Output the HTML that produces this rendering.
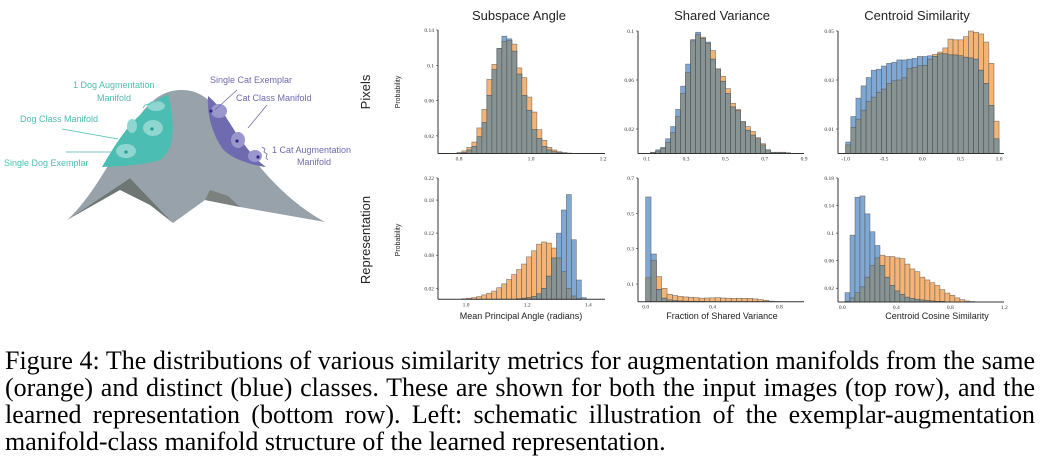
<!DOCTYPE html>
<html><head><meta charset="utf-8"><style>
body{margin:0;width:1040px;height:466px;background:#fff;overflow:hidden;position:relative;font-family:"Liberation Sans",sans-serif}
.cap{position:absolute;left:5px;width:1030px;font-family:"Liberation Serif",serif;font-size:26px;color:#000;text-align:justify;text-align-last:justify;white-space:nowrap;line-height:27px}
.cap.last{text-align-last:left}
</style></head><body>
<svg id="fig" width="1040" height="340" style="position:absolute;left:0;top:0" xmlns="http://www.w3.org/2000/svg">
<g>
<path d="M67,220 C95,195 115,150 140,115 C155,95 168,90 182,90 C200,90 212,100 230,125 C255,165 285,200 325,222 L240,207 L205,200 L173,223 L130,178 Z" fill="#98a2ab"/>
<path d="M67,220 L130,178 L173,223 L150,205 L120,190 Z" fill="#6f7774"/>
<path d="M205,200 L240,207 L228,196 L210,190 Z" fill="#7a817e"/>
<path d="M102,167 C112,150 125,128 140,115 C150,104 160,98 168,94 C175,120 176,150 160,160 C140,166 120,166 102,167 Z" fill="#4bbdb2"/>
<path d="M208,96 C218,104 225,115 236,133 C248,150 256,160 266,167 C250,165 230,158 222,148 C210,130 207,110 208,96 Z" fill="#6e6bb0"/>
<ellipse cx="126" cy="151" rx="10" ry="7" fill="#8ed6cf"/><circle cx="126" cy="152" r="1.6" fill="#1f9c90"/>
<ellipse cx="153" cy="128" rx="10" ry="8" fill="#8ed6cf"/><circle cx="152" cy="129" r="1.6" fill="#1f9c90"/>
<ellipse cx="132" cy="126" rx="5" ry="7" fill="#8ed6cf"/>
<ellipse cx="156" cy="106" rx="9" ry="5" fill="#8ed6cf"/>
<ellipse cx="219" cy="111" rx="8" ry="7" fill="#9a97cc"/><circle cx="211" cy="111" r="1.6" fill="#2e2a8a"/>
<ellipse cx="238" cy="140" rx="7" ry="8" fill="#9a97cc"/><circle cx="237" cy="141" r="1.6" fill="#2e2a8a"/>
<ellipse cx="255" cy="156" rx="7" ry="6" fill="#9a97cc"/><circle cx="258" cy="157" r="1.6" fill="#2e2a8a"/>
<g stroke="#4bbdb2" stroke-width="0.8" fill="none"><line x1="62" y1="129" x2="118" y2="139"/><line x1="66" y1="152" x2="112" y2="152"/><path d="M143,108 l2,-3 l5,-1 l2,-2 l4,0 l2,-2"/></g>
<g stroke="#6e6bb0" stroke-width="0.8" fill="none"><line x1="237" y1="90" x2="215" y2="110"/><line x1="267" y1="105" x2="248" y2="128"/><path d="M262,147 l3,2 l-1,3 l3,2 l-1,4 l2,2"/></g>
<g font-size="9" fill="#4bbdb2"><text x="73" y="88">1 Dog  Augmentation</text><text x="97" y="101">Manifold</text><text x="20" y="122">Dog Class Manifold</text><text x="4" y="166">Single Dog Exemplar</text></g>
<g font-size="9" fill="#6e6bb0"><text x="210" y="83">Single Cat Exemplar</text><text x="236" y="101">Cat Class Manifold</text><text x="272" y="153">1 Cat Augmentation</text><text x="297" y="165">Manifold</text></g>
</g>
<g font-size="13" fill="#222" text-anchor="middle">
<text x="519" y="20">Subspace Angle</text>
<text x="722" y="20">Shared Variance</text>
<text x="917" y="20">Centroid Similarity</text>
<text transform="translate(370,92) rotate(-90)">Pixels</text>
<text transform="translate(370,240) rotate(-90)">Representation</text>
</g>
<g font-size="7" fill="#222" text-anchor="middle">
<text transform="translate(400,92) rotate(-90)">Probability</text>
<text transform="translate(400,240) rotate(-90)">Probability</text>
</g>
<g font-size="9" fill="#222" text-anchor="middle">
<text x="521" y="319">Mean Principal Angle (radians)</text>
<text x="722" y="319">Fraction of Shared Variance</text>
<text x="937" y="319">Centroid Cosine Similarity</text>
</g>
<g id="charts"></g>
</svg>
<div class="cap" style="top:347px">Figure 4: The distributions of various similarity metrics for augmentation manifolds from the same</div>
<div class="cap" style="top:374px">(orange) and distinct (blue) classes. These are shown for both the input images (top row), and the</div>
<div class="cap" style="top:401px">learned representation (bottom row). Left: schematic illustration of the exemplar-augmentation</div>
<div class="cap last" style="top:428px">manifold-class manifold structure of the learned representation.</div>
<script>
const angPixOrange=[0.001,0.003,0.007,0.013,0.029,0.05,0.084,0.101,0.119,0.127,0.128,0.124,0.097,0.086,0.064,0.047,0.027,0.015,0.007,0.004,0.002,0.001,0.0005];
const angPixBlue=[0.0005,0.001,0.004,0.008,0.019,0.035,0.066,0.095,0.119,0.133,0.13,0.116,0.09,0.066,0.049,0.027,0.017,0.008,0.004,0.002,0.001,0.0005,0.0002];
const varPixOrange=[0.001,0.002,0.004,0.009,0.017,0.03,0.049,0.066,0.092,0.097,0.095,0.09,0.084,0.069,0.063,0.053,0.041,0.036,0.026,0.022,0.018,0.013,0.008,0.003,0.001,0.001,0.001,0.0005];
const varPixBlue=[0.001,0.003,0.005,0.012,0.022,0.036,0.055,0.073,0.093,0.099,0.094,0.091,0.077,0.069,0.059,0.049,0.038,0.035,0.026,0.019,0.015,0.012,0.007,0.003,0.001,0.001,0.001,0.0005];
const cenPixOrange=[0.0035,0.0107,0.014,0.0177,0.0212,0.023,0.025,0.0263,0.0286,0.0297,0.03,0.0309,0.0347,0.0351,0.0358,0.036,0.0385,0.0405,0.0414,0.0431,0.0467,0.0464,0.0464,0.0477,0.05,0.0495,0.0488,0.0455,0.0368,0.0132];
const cenPixBlue=[0.0047,0.0151,0.0226,0.0276,0.031,0.034,0.0344,0.0357,0.0368,0.0372,0.0382,0.0382,0.0385,0.0388,0.0396,0.0396,0.0399,0.0396,0.0407,0.0407,0.0403,0.0402,0.0399,0.0393,0.039,0.0385,0.034,0.0286,0.0196,0.006];
const angRepOrange=[0.001,0.002,0.003,0.005,0.008,0.011,0.015,0.021,0.028,0.036,0.045,0.054,0.064,0.077,0.088,0.1,0.104,0.102,0.093,0.075,0.05,0.02,0.006,0.001,0];
const angRepBlue=[0,0,0,0,0,0,0,0,0,0,0,0.001,0.002,0.003,0.005,0.01,0.02,0.042,0.075,0.12,0.162,0.19,0.108,0.035,0.003];
const varRepOrange=[0.135,0.233,0.142,0.076,0.042,0.035,0.03,0.027,0.025,0.023,0.02,0.021,0.022,0.023,0.021,0.02,0.019,0.02,0.019,0.019,0.016,0.012,0.008,0.003,0.001];
const varRepBlue=[0.593,0.27,0.07,0.02,0.01,0.006,0.004,0.003,0.002,0.002,0.001,0,0,0,0,0,0,0,0,0,0,0,0,0,0];
const cenRepOrange=[0.001,0.006,0.0136,0.022,0.036,0.053,0.064,0.068,0.066,0.066,0.064,0.063,0.055,0.048,0.044,0.036,0.032,0.028,0.024,0.018,0.013,0.0097,0.006,0.0034,0.0015,0.0007];
const cenRepBlue=[0.0136,0.097,0.152,0.154,0.128,0.102,0.082,0.053,0.036,0.024,0.016,0.011,0.007,0.005,0.004,0.003,0.002,0.0015,0.001,0.001,0,0,0,0,0,0];
const angPixXTicks=[0.8,1.0,1.2], angPixYTicks=[0.02,0.06,0.1,0.14];
const varPixXTicks=[0.1,0.3,0.5,0.7,0.9], varPixYTicks=[0.02,0.06,0.1];
const cenPixXTicks=[-1.0,-0.5,0.0,0.5,1.0], cenPixYTicks=[0.01,0.03,0.05];
const angRepXTicks=[1.0,1.2,1.4], angRepYTicks=[0.02,0.08,0.12,0.18,0.22];
const varRepXTicks=[0.0,0.4,0.8], varRepYTicks=[0.1,0.3,0.5,0.7];
const cenRepXTicks=[0.0,0.4,0.8,1.2], cenRepYTicks=[0.02,0.06,0.1,0.14,0.18];

const NS='http://www.w3.org/2000/svg';
const root=document.getElementById('charts');
function mk(tag,attrs,parent){const e=document.createElementNS(NS,tag);for(const k in attrs)e.setAttribute(k,attrs[k]);parent.appendChild(e);return e;}
function fmt(v){const r=Math.round(v*100)/100;return Math.abs(Math.round(r*10)-r*10)<1e-9?r.toFixed(1):String(r);}
function chart(name,L,R,T,B,xv0,xPx0,xv1,xPx1,yTop,binStart,binW,oArr,bArr,xt,yt){
  const g=mk('g',{},root);
  
  
  const sx=v=>xPx0+(v-xv0)*(xPx1-xPx0)/(xv1-xv0);
  const sy=v=>B-v*(B-T)/yTop;
  const n=Math.max(oArr.length,bArr.length);
  for(let i=0;i<n;i++){
    const x0=sx(binStart+i*binW),x1=sx(binStart+(i+1)*binW);
    const o=oArr[i]||0,b=bArr[i]||0,m=Math.min(o,b);
    const st={stroke:'#4a4a4a','stroke-width':0.6,'stroke-opacity':0.7};
    if(o>0){const r=mk('rect',Object.assign({x:x0,y:sy(o),width:x1-x0,height:B-sy(o),fill:'#f4b476'},st),g);
      
      }
    if(b>0){const r=mk('rect',Object.assign({x:x0,y:sy(b),width:x1-x0,height:B-sy(b),fill:'#7fa8d4'},st),g);
      
      }
    if(m>0){const r=mk('rect',Object.assign({x:x0,y:sy(m),width:x1-x0,height:B-sy(m),fill:'#889493'},st),g);
      
      }
  }
  const ya=mk('line',{x1:L,y1:T,x2:L,y2:B,stroke:'#333','stroke-width':1},g);
  
  
  const xa=mk('line',{x1:L,y1:B,x2:R,y2:B,stroke:'#333','stroke-width':1},g);
  
  
  xt.forEach(v=>{const t=mk('text',{x:sx(v),y:B+7,'font-size':5.5,'text-anchor':'middle',fill:'#333','font-family':'Liberation Serif'},g);t.textContent=fmt(v);
    
    });
  yt.forEach(v=>{mk('line',{x1:L-2,y1:sy(v),x2:L,y2:sy(v),stroke:'#333','stroke-width':0.6},g);
    const t=mk('text',{x:L-4,y:sy(v)+2,'font-size':5.5,'text-anchor':'end',fill:'#333','font-family':'Liberation Serif'},g);t.textContent=fmt(v);
    
    });
}
chart('chart-pixels-subspace-angle',438,605,30,153.5,0.8,459,1.2,603,0.14,0.794,0.0139,angPixOrange,angPixBlue,angPixXTicks,angPixYTicks);
chart('chart-pixels-shared-variance',638,804,31,153.5,0.1,646.7,0.9,804,0.1,0.12,0.0254,varPixOrange,varPixBlue,varPixXTicks,varPixYTicks);
chart('chart-pixels-centroid-similarity',838,1004,31,153.5,-1,845.7,1,999,0.05,-1,0.0667,cenPixOrange,cenPixBlue,cenPixXTicks,cenPixYTicks);
chart('chart-rep-subspace-angle',438,605,178,299.3,1.0,466,1.4,588.3,0.22,0.986,0.0163,angRepOrange,angRepBlue,angRepXTicks,angRepYTicks);
chart('chart-rep-shared-variance',638,804,178,301.7,0.0,645.7,0.8,779.3,0.7,0.0,0.032,varRepOrange,varRepBlue,varRepXTicks,varRepYTicks);
chart('chart-rep-centroid-similarity',838,1004,178,302,0.0,842.3,1.2,1004.3,0.18,0.02,0.037,cenRepOrange,cenRepBlue,cenRepXTicks,cenRepYTicks);
</script>
</body></html>
